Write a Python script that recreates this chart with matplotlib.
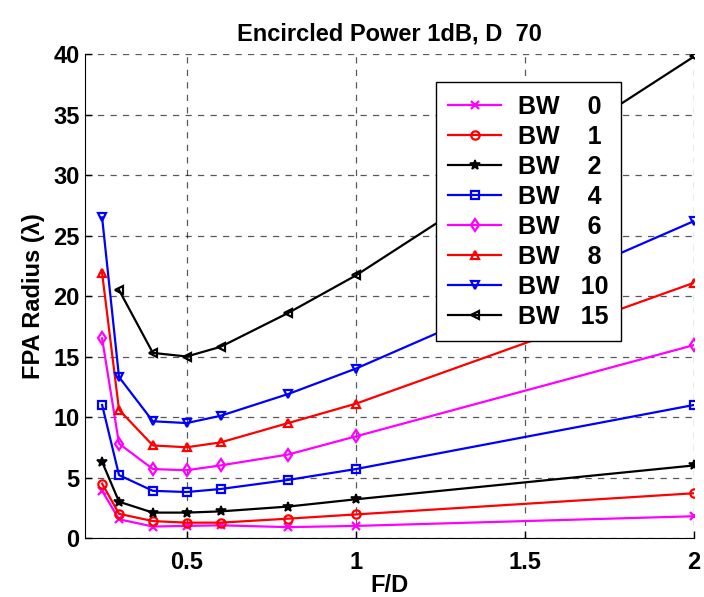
import numpy as np
import matplotlib.pyplot as plt

plt.rcParams['font.family'] = ['Liberation Sans', 'DejaVu Sans']
plt.rcParams['font.weight'] = 'bold'

# Data
fd = [0.25, 0.3, 0.4, 0.5, 0.6, 0.8, 1.0, 2.0]
fd15 = [0.3, 0.4, 0.5, 0.6, 0.8, 1.0, 2.0]

bw0 = [3.9, 1.55, 0.95, 1.0, 1.05, 0.9, 1.0, 1.8]
bw1 = [4.5, 2.0, 1.4, 1.27, 1.27, 1.6, 1.95, 3.7]
bw2 = [6.3, 3.0, 2.1, 2.1, 2.2, 2.6, 3.2, 6.0]
bw4 = [11.0, 5.2, 3.9, 3.8, 4.05, 4.8, 5.7, 11.0]
bw6 = [16.5, 7.8, 5.7, 5.6, 6.0, 6.9, 8.4, 15.95]
bw8 = [21.9, 10.6, 7.65, 7.5, 7.9, 9.5, 11.1, 21.1]
bw10 = [26.5, 13.3, 9.65, 9.5, 10.1, 11.9, 14.0, 26.2]
bw15 = [20.5, 15.3, 15.0, 15.8, 18.6, 21.7, 39.8]

labels = ['BW    0', 'BW    1', 'BW    2', 'BW    4',
          'BW    6', 'BW    8', 'BW   10', 'BW   15']

fig = plt.figure(figsize=(7.04, 5.97), dpi=100)
ax = fig.add_axes([0.121, 0.0988, 0.865, 0.8107])

ms = 6
lw = 1.6
ax.plot(fd, bw0, '-x', color='magenta', lw=lw, ms=ms, mew=1.6, label=labels[0])
ax.plot(fd, bw1, '-o', color='red', lw=lw, ms=ms, mew=1.6, mfc='none', label=labels[1])
ax.plot(fd, bw2, '-*', color='black', lw=lw, ms=ms + 1, mew=1.2, label=labels[2])
ax.plot(fd, bw4, '-s', color='blue', lw=lw, ms=ms, mew=1.6, mfc='none', label=labels[3])
ax.plot(fd, bw6, '-d', color='magenta', lw=lw, ms=ms, mew=1.6, mfc='none', label=labels[4])
ax.plot(fd, bw8, '-^', color='red', lw=lw, ms=ms, mew=1.6, mfc='none', label=labels[5])
ax.plot(fd, bw10, '-v', color='blue', lw=lw, ms=ms, mew=1.6, mfc='none', label=labels[6])
ax.plot(fd15, bw15, '-<', color='black', lw=lw, ms=ms, mew=1.6, mfc='none', label=labels[7])

ax.set_xlim(0.2, 2)
ax.set_ylim(0, 40)
ax.set_xticks([0.5, 1, 1.5, 2])
ax.set_xticklabels(['0.5', '1', '1.5', '2'])
ax.set_yticks(np.arange(0, 41, 5))
ax.tick_params(labelsize=17, direction='in', length=5, width=1)
ax.tick_params(axis='x', pad=9)
ax.tick_params(axis='y', pad=4)
for t in ax.get_xticklabels() + ax.get_yticklabels():
    t.set_fontweight('bold')
ax.spines['top'].set_visible(False)
ax.spines['right'].set_visible(False)
ax.grid(True, color='black', linestyle=(0, (5, 5)), lw=0.9, alpha=0.65)

ax.set_xlabel('F/D', fontsize=17, fontweight='bold', labelpad=0)
ax.set_ylabel('FPA Radius (λ)', fontsize=17, fontweight='bold', labelpad=6)
ax.set_title('Encircled Power 1dB, D  70', fontsize=17, fontweight='bold', pad=10)

leg = ax.legend(loc='upper left', bbox_to_anchor=(0.576, 0.942), borderaxespad=0,
                prop={'weight': 'bold', 'size': 18}, fancybox=False,
                edgecolor='black', framealpha=1, handlelength=2.1,
                labelspacing=0.24, borderpad=0.5, handletextpad=0.7)
leg.get_frame().set_linewidth(1.0)

fig.savefig('out.png', dpi=100)
